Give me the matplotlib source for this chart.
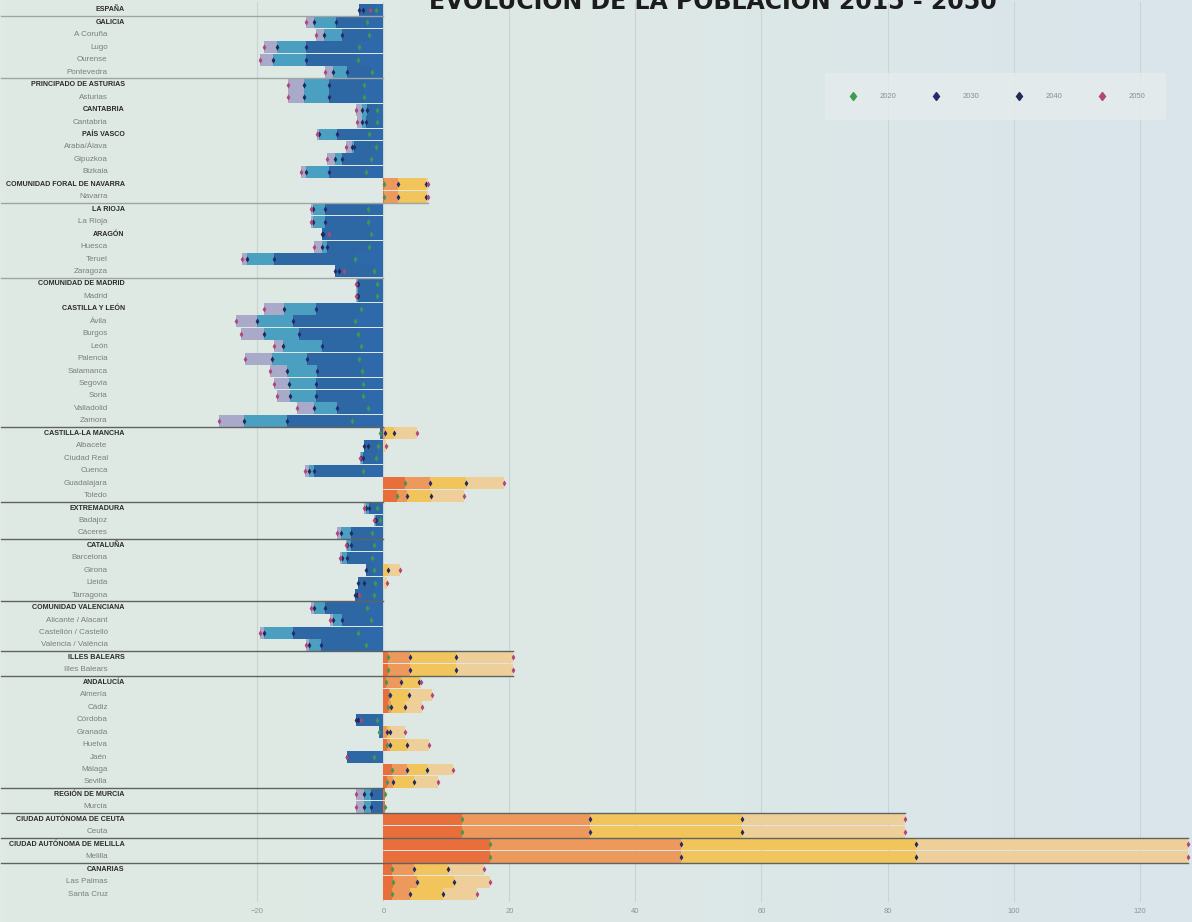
import matplotlib.pyplot as plt
import numpy as np
from matplotlib.lines import Line2D
from matplotlib.colors import LinearSegmentedColormap

plt.rcParams['font.family'] = ['Liberation Sans', 'DejaVu Sans']

# datos: variación de población (%) respecto a 2015
nombres = ["ESPAÑA", "GALICIA", "A Coruña", "Lugo", "Ourense", "Pontevedra",
           "PRINCIPADO DE ASTURIAS", "Asturias", "CANTABRIA", "Cantabria",
           "PAÍS VASCO", "Araba/Álava", "Gipuzkoa", "Bizkaia",
           "COMUNIDAD FORAL DE NAVARRA", "Navarra", "LA RIOJA", "La Rioja",
           "ARAGÓN", "Huesca", "Teruel", "Zaragoza",
           "COMUNIDAD DE MADRID", "Madrid",
           "CASTILLA Y LEÓN", "Ávila", "Burgos", "León", "Palencia", "Salamanca",
           "Segovia", "Soria", "Valladolid", "Zamora",
           "CASTILLA-LA MANCHA", "Albacete", "Ciudad Real", "Cuenca", "Guadalajara", "Toledo",
           "EXTREMADURA", "Badajoz", "Cáceres",
           "CATALUÑA", "Barcelona", "Girona", "Lleida", "Tarragona",
           "COMUNIDAD VALENCIANA", "Alicante / Alacant", "Castellón / Castelló", "Valencia / València",
           "ILLES BALEARS", "Illes Balears",
           "ANDALUCÍA", "Almería", "Cádiz", "Córdoba", "Granada", "Huelva", "Jaén", "Málaga", "Sevilla",
           "REGIÓN DE MURCIA", "Murcia",
           "CIUDAD AUTÓNOMA DE CEUTA", "Ceuta",
           "CIUDAD AUTÓNOMA DE MELILLA", "Melilla",
           "CANARIAS", "Las Palmas", "Santa Cruz"]

v2020 = [-1.2, -2.6, -2.2, -3.9, -4.1, -1.8, -3.0, -3.0, -1.0, -1.0,
         -2.3, -1.2, -1.9, -2.7, 0.1, 0.1, -2.5, -2.5, -2.0, -2.2, -4.5, -1.5,
         -1.0, -1.0, -3.5, -4.5, -4.0, -3.5, -3.8, -3.4, -3.2, -3.3, -2.4, -5.0,
         -0.5, -0.9, -1.2, -3.2, 3.5, 2.1, -1.0, -0.5, -1.8,
         -1.5, -1.8, -1.5, -1.4, -1.5, -2.6, -2.0, -4.0, -2.8, 0.7, 0.7,
         0.4, 0.9, 0.8, -1.0, -0.7, 0.6, -1.5, 1.4, 0.6, 0.2, 0.2,
         12.5, 12.5, 17.0, 17.0, 1.4, 1.6, 1.3]
v2030 = [-3.9, -7.5, -6.5, -12.2, -12.3, -5.7, -8.6, -8.6, -2.6, -2.7,
         -7.3, -4.6, -6.5, -8.7, 2.3, 2.3, -9.2, -9.2, -9.7, -9.0, -17.4, -7.6,
         -4.0, -4.0, -10.7, -14.3, -13.4, -9.7, -12.1, -10.6, -10.7, -10.7, -7.3, -15.3,
         0.3, -3.1, -3.3, -11.0, 7.4, 3.7, -2.2, -1.2, -5.2,
         -5.2, -5.8, -2.7, -4.1, -4.5, -9.2, -6.5, -14.4, -9.9, 4.2, 4.2,
         2.8, 1.1, 1.2, -4.4, 0.6, 1.0, -5.8, 3.8, 1.6, -2.0, -2.0,
         32.8, 32.8, 47.2, 47.2, 4.9, 5.4, 4.3]
v2040 = [-3.2, -11.0, -9.4, -16.9, -17.5, -8.0, -12.6, -12.6, -3.4, -3.4,
         -10.2, -5.0, -7.6, -12.2, 6.8, 6.8, -11.2, -11.2, -9.5, -9.7, -21.6, -7.0,
         -4.2, -4.2, -15.7, -20.0, -18.9, -15.9, -17.7, -15.3, -15.0, -14.8, -11.0, -22.1,
         1.7, -2.5, -3.6, -11.8, 13.1, 7.5, -2.8, -1.4, -6.7,
         -5.8, -6.6, 0.8, -3.1, -4.2, -11.0, -8.0, -19.0, -11.8, 11.5, 11.5,
         5.7, 4.1, 3.4, -4.0, 1.0, 3.8, -5.7, 7.0, 4.9, -3.1, -3.1,
         56.9, 56.9, 84.5, 84.5, 10.2, 11.2, 9.4]
v2050 = [-2.1, -12.3, -10.7, -18.9, -19.6, -9.3, -15.1, -15.1, -4.3, -4.2,
         -10.5, -5.9, -8.9, -13.1, 7.1, 7.1, -11.5, -11.5, -8.6, -11.0, -22.4, -6.2,
         -4.4, -4.4, -18.9, -23.4, -22.6, -17.4, -21.9, -18.0, -17.4, -16.8, -13.7, -26.1,
         5.4, 0.4, -3.7, -12.5, 19.2, 12.8, -3.1, -1.5, -7.3,
         -6.0, -6.9, 2.6, 0.6, -3.9, -11.5, -8.4, -19.6, -12.3, 20.6, 20.6,
         5.9, 7.7, 6.2, -3.6, 3.5, 7.2, -5.7, 11.0, 8.6, -4.3, -4.3,
         82.8, 82.8, 127.7, 127.7, 16.0, 17.0, 14.8]

anios = ["2020", "2030", "2040", "2050"]
separadores = [0, 5, 15, 21, 33, 39, 42, 47, 51, 53, 62, 64, 66, 68]

col_neg = ['#2e6aab', '#2d68a5', '#4b9fc0', '#a9a9c9']
col_pos = ['#e86f3b', '#ec995b', '#f1c45c', '#efcf99']
col_mark = ['#3f9a4e', '#252a6e', '#1f2a55', '#b2457a']

fig = plt.figure(figsize=(11.92, 9.22), dpi=100, facecolor='#dfe9e5')

# fondo con un degradado suave de verde grisáceo a azul grisáceo
fondo = fig.add_axes([0, 0, 1, 1], zorder=-10)
cmap_fondo = LinearSegmentedColormap.from_list('fondo', ['#e0eae3', '#dde8e6', '#d9e5eb'])
fondo.imshow(np.linspace(0, 1, 256).reshape(1, -1), cmap=cmap_fondo, aspect='auto',
             extent=[0, 1, 0, 1])
fondo.axis('off')

ax = fig.add_axes([130/1192, 20.5/922, 1060/1192, 899/922])
ax.set_facecolor('none')

series = [v2020, v2030, v2040, v2050]
y = np.arange(len(nombres))

# barras: de la más reciente (atrás) a la más antigua (delante)
for k in range(3, -1, -1):
    vals = np.array(series[k])
    cols = [col_pos[k] if v >= 0 else col_neg[k] for v in vals]
    ax.barh(y, vals, height=0.96, color=cols, zorder=2)

for k in range(4):
    ax.scatter(series[k], y, marker='d', s=10, color=col_mark[k], zorder=4, linewidths=0)

# grupos (comunidad + provincias)
es_region = [n.isupper() for n in nombres]
grupo = np.cumsum(es_region)
tam_grupo = {g: int((grupo == g).sum()) for g in set(grupo)}

# líneas separadoras entre comunidades (se prolongan sobre las uniprovinciales positivas)
for i in separadores:
    fin = 0
    for j in (i, i + 1):
        if tam_grupo[grupo[j]] == 2:
            fin = max(fin, v2050[j])
    color = '#9ea6a3' if i < 33 else '#5f6462'
    ax.plot([-60.7, fin], [i + 0.5, i + 0.5], color=color, lw=1.0, zorder=3, clip_on=False)

# etiquetas
for i, n in enumerate(nombres):
    if es_region[i]:
        ax.text(-0.005, i, n, transform=ax.get_yaxis_transform(), ha='right', va='center',
                fontsize=5.1, color='#2b2b2b', fontweight='bold')
    else:
        ax.text(-0.021, i, n, transform=ax.get_yaxis_transform(), ha='right', va='center',
                fontsize=5.8, color='#7a7f7d')

ax.set_xlim(-40.2, 128)
ax.set_ylim(len(nombres) - 0.4, -0.6)
ax.set_yticks([])
ax.set_xticks([-20, 0, 20, 40, 60, 80, 100, 120])
ax.tick_params(axis='x', length=0, pad=5, labelsize=5.5, labelcolor='#8d9592')
ax.grid(axis='x', color='#cad5d3', lw=0.8, zorder=0)
ax.set_axisbelow(True)
for s in ax.spines.values():
    s.set_visible(False)

handles = [Line2D([], [], marker='d', ls='', color=c, markersize=4.5) for c in col_mark]
leg = fig.legend(handles, anios, ncol=4, loc='center', bbox_to_anchor=(0.835, 0.895),
                 frameon=True, facecolor='#e5ecec', edgecolor='none', fontsize=5.5,
                 labelcolor='#8a8f8f', handletextpad=2.5, columnspacing=4.2, borderpad=2.6)

fig.text(0.598, 0.990, 'EVOLUCIÓN DE LA POBLACIÓN 2015 - 2050', ha='center', va='baseline',
         fontsize=17, fontweight='bold', color='#1c1c1c', family='DejaVu Sans')

plt.savefig('out.png', dpi=100)
